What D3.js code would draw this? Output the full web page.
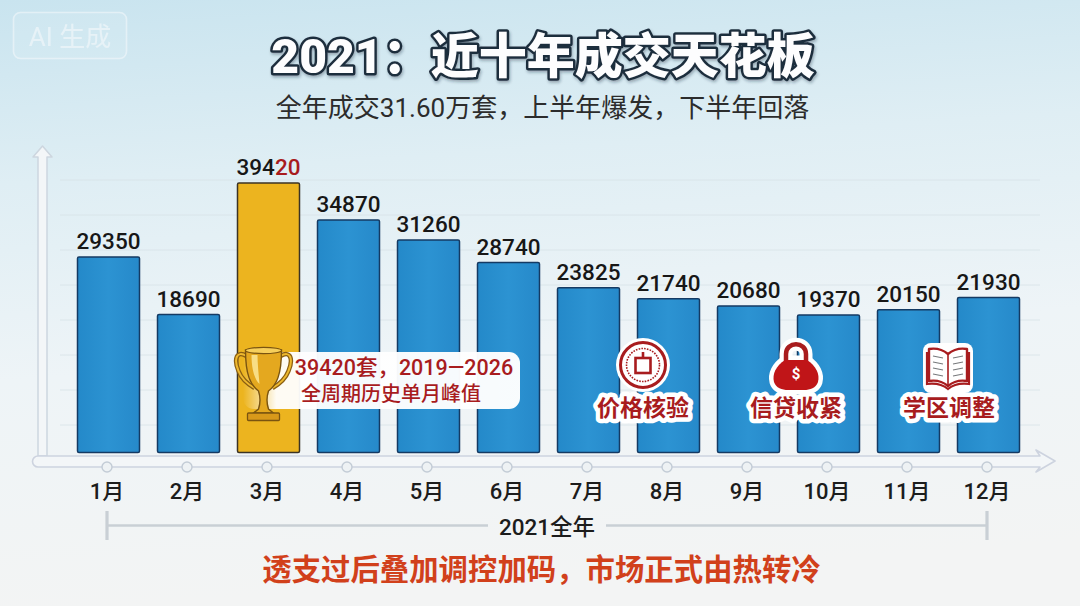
<!DOCTYPE html>
<html>
<head>
<meta charset="utf-8">
<script src="https://cdn.jsdelivr.net/npm/d3@7"></script>
<style>
  html, body { margin: 0; padding: 0; background: #eef3f6; }
  svg { display: block; }
  text { font-family: Roboto, "Noto Sans CJK SC", "Noto Sans", sans-serif; }
</style>
</head>
<body>
<div id="chart"></div>
<script>
var months = ["1月","2月","3月","4月","5月","6月","7月","8月","9月","10月","11月","12月"];
var values = [29350,18690,39420,34870,31260,28740,23825,21740,20680,19370,20150,21930];
var peakMonth = "3月";
var titleText = "2021：近十年成交天花板";
var subtitleText = "全年成交31.60万套，上半年爆发，下半年回落";
var rangeText = "2021全年";
var footerText = "透支过后叠加调控加码，市场正式由热转冷";
var peakNote = ["39420套，2019—2026", "全周期历史单月峰值"];
var tags = ["价格核验","信贷收紧","学区调整"];

var width = 1080, height = 606;
var baseY = 452.5;
var red = "#a81c1e";

var svg = d3.select("#chart").append("svg")
    .attr("width", width)
    .attr("height", height)
    .attr("viewBox", "0 0 " + width + " " + height);

var defs = svg.append("defs");

var bg = defs.append("linearGradient").attr("id","bg")
    .attr("x1",0).attr("y1",0).attr("x2",0.12).attr("y2",1);
bg.append("stop").attr("offset","0%").attr("stop-color","#c9e4ef");
bg.append("stop").attr("offset","30%").attr("stop-color","#dfeef4");
bg.append("stop").attr("offset","62%").attr("stop-color","#eef4f7");
bg.append("stop").attr("offset","100%").attr("stop-color","#f3f4f4");

var blue = defs.append("linearGradient").attr("id","blueBar")
    .attr("x1",0).attr("y1",0).attr("x2",1).attr("y2",0);
blue.append("stop").attr("offset","0%").attr("stop-color","#2489c9");
blue.append("stop").attr("offset","50%").attr("stop-color","#2c93d2");
blue.append("stop").attr("offset","100%").attr("stop-color","#2689ca");

var note = defs.append("linearGradient").attr("id","noteFill")
    .attr("x1",0).attr("y1",0).attr("x2",1).attr("y2",0);
note.append("stop").attr("offset","0%").attr("stop-color","#fff").attr("stop-opacity",0);
note.append("stop").attr("offset","12%").attr("stop-color","#fff").attr("stop-opacity",0.95);
note.append("stop").attr("offset","100%").attr("stop-color","#fff").attr("stop-opacity",0.97);

var shadow = defs.append("filter").attr("id","titleShadow")
    .attr("x","-5%").attr("y","-20%").attr("width","110%").attr("height","150%");
shadow.append("feDropShadow").attr("dx",1).attr("dy",2).attr("stdDeviation",1.5)
    .attr("flood-color","#1d2b3a").attr("flood-opacity",0.35);

svg.append("rect").attr("width",width).attr("height",height).attr("fill","url(#bg)");

//the bars in the picture are not strictly proportional, so the scale has several stops
var y = d3.scaleLinear()
    .domain([0, 18690, 19370, 21930, 28740, 31260, 34870, 39420])
    .range([baseY, 314.5, 315, 297.5, 262.5, 240, 220, 183]);

var x = d3.scaleBand()
    .domain(months)
    .range([68.5, 1028.5])
    .paddingInner(0.225)
    .paddingOuter(0.1125);

var center = function(m){ return x(m) + x.bandwidth()/2; };

//faint horizontal guides
var gridY = d3.scaleLinear().domain([0,7]).range([180,425]);
svg.append("g").selectAll("line")
    .data(d3.range(8))
    .enter().append("line")
    .attr("x1",60).attr("x2",1040)
    .attr("y1",function(d){ return gridY(d); })
    .attr("y2",function(d){ return gridY(d); })
    .attr("stroke","#d6e1e6")
    .attr("stroke-width",1)
    .attr("opacity",0.75);

//y axis arrow
svg.append("path")
    .attr("d","M38,456 L38,157 L33,157 L42.5,146 L52,157 L47,157 L47,456 Z")
    .attr("fill","#f3f6f8")
    .attr("stroke","#cdd6df")
    .attr("stroke-width",1.5)
    .attr("stroke-linejoin","round");

//x axis band and arrow
svg.append("path")
    .attr("d","M38,456 L1040,456 L1036,450 L1055,461 L1036,472 L1040,467 L38,467 A5.5,5.5 0 0 1 38,456 Z")
    .attr("fill","#f3f6f8")
    .attr("stroke","#cdd3df")
    .attr("stroke-width",1.6)
    .attr("stroke-linejoin","round");

svg.append("g").selectAll("circle")
    .data(months)
    .enter().append("circle")
    .attr("cx",function(d){ return center(d) - 1.5; })
    .attr("cy",467)
    .attr("r",5)
    .attr("fill","#eef2f4")
    .attr("stroke","#c3ccd6")
    .attr("stroke-width",1.4);

//bars
svg.append("g").selectAll("rect")
    .data(months)
    .enter().append("rect")
    .attr("x",function(d){ return x(d); })
    .attr("width",x.bandwidth())
    .attr("y",function(d,i){ return y(values[i]); })
    .attr("height",function(d,i){ return baseY - y(values[i]); })
    .attr("rx",1.5)
    .attr("fill",function(d){ return d == peakMonth ? "#ecb41f" : "url(#blueBar)"; })
    .attr("stroke",function(d){ return d == peakMonth ? "#3b3324" : "#143a63"; })
    .attr("stroke-width",1.5);

//value labels, the peak has its last two digits in red
var labels = svg.append("g").selectAll("text")
    .data(months)
    .enter().append("text")
    .attr("x",center)
    .attr("y",function(d,i){ return y(values[i]) - 8; })
    .attr("text-anchor","middle")
    .attr("font-size",22.5)
    .attr("font-weight",500)
    .attr("fill","#171717");
labels.each(function(d,i){
    var s = String(values[i]);
    if (d == peakMonth) {
        d3.select(this).append("tspan").text(s.slice(0,3));
        d3.select(this).append("tspan").attr("fill",red).text(s.slice(3));
    } else {
        d3.select(this).text(s);
    }
});

//month labels
svg.append("g").selectAll("text")
    .data(months)
    .enter().append("text")
    .attr("x",function(d){ return center(d) - 1.5; })
    .attr("y",499)
    .attr("text-anchor","middle")
    .attr("font-size",22)
    .attr("font-weight",500)
    .attr("fill","#1c1c1c")
    .text(function(d){ return d; });

//range bracket
var bx1 = center(months[0]) - 1.5, bx2 = center(months[11]) - 1.5;
var bracket = svg.append("g").attr("stroke","#c9cfd5").attr("fill","none");
bracket.append("path").attr("stroke-width",3.2)
    .attr("d","M"+bx1+",511 V540 M"+bx2+",511 V540");
bracket.append("path").attr("stroke-width",2.4)
    .attr("d","M"+bx1+",525.5 H488 M606,525.5 H"+bx2);
svg.append("text").attr("x",547).attr("y",535)
    .attr("text-anchor","middle")
    .attr("font-size",22.5).attr("font-weight",500)
    .attr("fill","#1c1c1c").text(rangeText);

//title block
svg.append("text").attr("x",543).attr("y",73)
    .attr("text-anchor","middle")
    .attr("font-size",48).attr("font-weight",900)
    .attr("fill","#fdfdfe").attr("stroke","#1f2d3d").attr("stroke-width",5)
    .attr("stroke-linejoin","round").attr("paint-order","stroke")
    .attr("filter","url(#titleShadow)")
    .text(titleText);
svg.append("text").attr("x",542.5).attr("y",117)
    .attr("text-anchor","middle")
    .attr("font-size",26).attr("font-weight",400)
    .attr("fill","#2c2c2c").text(subtitleText);
svg.append("text").attr("x",541.5).attr("y",580)
    .attr("text-anchor","middle")
    .attr("font-size",29.4).attr("font-weight",700)
    .attr("fill","#d1401b").text(footerText);

//AI badge
var badge = svg.append("g").attr("opacity",0.62);
badge.append("rect").attr("x",13.5).attr("y",12.5).attr("width",113).attr("height",46).attr("rx",7)
    .attr("fill","#ffffff").attr("fill-opacity",0.12)
    .attr("stroke","#f3f8fb").attr("stroke-width",1.6);
badge.append("text").attr("x",70).attr("y",46).attr("text-anchor","middle")
    .attr("font-size",26).attr("fill","#f7fafc").text("AI 生成");

//peak callout
svg.append("rect").attr("x",243).attr("y",352).attr("width",277).attr("height",57).attr("rx",11)
    .attr("fill","url(#noteFill)");
svg.append("text").attr("x",404).attr("y",375).attr("text-anchor","middle")
    .attr("font-size",21.5).attr("font-weight",500).attr("fill",red).text(peakNote[0]);
svg.append("text").attr("x",391).attr("y",401).attr("text-anchor","middle")
    .attr("font-size",20).attr("font-weight",500).attr("fill",red).text(peakNote[1]);

//trophy
var trophy = svg.append("g").attr("transform","translate("+(center(peakMonth)-5)+",347)");
trophy.append("path")
    .attr("d","M-17,9 C-27,3 -30,12 -25,24 C-22,32 -16,37 -9,41 M17,9 C27,3 30,12 25,24 C22,32 16,37 9,41")
    .attr("fill","none").attr("stroke","#8a5f12").attr("stroke-width",4.5);
trophy.append("path")
    .attr("d","M-17,9 C-27,3 -30,12 -25,24 C-22,32 -16,37 -9,41 M17,9 C27,3 30,12 25,24 C22,32 16,37 9,41")
    .attr("fill","none").attr("stroke","#eeb92f").attr("stroke-width",2);
trophy.append("path")
    .attr("d","M-18,3 L18,3 C18,28 13,38 5,44 C3,50 3,56 5,62 L10,66 L-10,66 L-5,62 C-3,56 -3,50 -5,44 C-13,38 -18,28 -18,3 Z")
    .attr("fill","#e4a81f").attr("stroke","#7a5410").attr("stroke-width",1.4);
trophy.append("path").attr("d","M-12,8 C-12,22 -9,32 -4,37 C-5,26 -6,16 -6,8 Z")
    .attr("fill","#f8de85");
trophy.append("ellipse").attr("cx",0).attr("cy",3.5).attr("rx",18).attr("ry",3.2)
    .attr("fill","#f6cf5b").attr("stroke","#7a5410").attr("stroke-width",1.2);
trophy.append("rect").attr("x",-16).attr("y",66).attr("width",32).attr("height",7.5).attr("rx",1)
    .attr("fill","#d8991a").attr("stroke","#7a5410").attr("stroke-width",1.3);

//policy tags below the icons
var tagX = [643, 796, 949];
svg.append("g").selectAll("text")
    .data(tags)
    .enter().append("text")
    .attr("x",function(d,i){ return tagX[i]; })
    .attr("y",416)
    .attr("text-anchor","middle")
    .attr("font-size",23).attr("font-weight",700)
    .attr("fill",red).attr("stroke","#fff").attr("stroke-width",9)
    .attr("stroke-linejoin","round").attr("paint-order","stroke")
    .text(function(d){ return d; });

//coin icon
var coin = svg.append("g").attr("transform","translate(643,365)");
coin.append("circle").attr("r",27).attr("fill","#fff");
coin.append("circle").attr("r",22.5).attr("fill","none").attr("stroke",red).attr("stroke-width",3);
coin.append("circle").attr("r",16.5).attr("fill","none").attr("stroke",red).attr("stroke-width",1.6).attr("stroke-dasharray","1.6 1.2");
coin.append("rect").attr("x",-7.5).attr("y",-7).attr("width",15).attr("height",15).attr("fill","none").attr("stroke",red).attr("stroke-width",2.6);
coin.append("path").attr("d","M0,-7 V-13").attr("stroke",red).attr("stroke-width",2.6);

//lock icon
var lock = svg.append("g").attr("transform","translate(796,368)");
var lockShape = "M-10,-6 V-14 C-10,-27 10,-27 10,-14 V-6";
var lockBody = "M-11,-8 L11,-8 C20,-2 24,6 22,14 C20,20 14,22 8,22 L-8,22 C-14,22 -20,20 -22,14 C-24,6 -20,-2 -11,-8 Z";
lock.append("path").attr("d",lockShape).attr("fill","none").attr("stroke","#fff").attr("stroke-width",13);
lock.append("path").attr("d",lockBody).attr("fill","#fff").attr("stroke","#fff").attr("stroke-width",9).attr("stroke-linejoin","round");
lock.append("path").attr("d",lockShape).attr("fill","none").attr("stroke",red).attr("stroke-width",4.5);
lock.append("path").attr("d",lockBody).attr("fill","#c01518");
lock.append("text").attr("x",0).attr("y",11).attr("text-anchor","middle")
    .attr("font-size",15).attr("font-weight",700).attr("fill","#fff").text("$");

//book icon
var book = svg.append("g").attr("transform","translate(948,368)");
book.append("rect").attr("x",-25).attr("y",-25).attr("width",50).attr("height",50).attr("rx",8).attr("fill","#fff");
book.append("path")
    .attr("d","M0,-14 C-6,-19 -13,-20 -19,-19 L-19,13 C-13,12 -6,13 0,18 C6,13 13,12 19,13 L19,-19 C13,-20 6,-19 0,-14 Z")
    .attr("fill","#fff").attr("stroke",red).attr("stroke-width",2.4).attr("stroke-linejoin","round");
book.append("path").attr("d","M-21,-16 V16 C-13,15 -6,16 0,21 C6,16 13,15 21,16 V-16")
    .attr("fill","none").attr("stroke",red).attr("stroke-width",2.2);
book.append("path").attr("d","M0,-14 V18").attr("stroke",red).attr("stroke-width",1.6);
book.append("path")
    .attr("d","M-15,-12 L-5,-10 M-15,-6 L-5,-4 M-15,0 L-5,2 M-15,6 L-5,8 M15,-12 L5,-10 M15,-6 L5,-4 M15,0 L5,2 M15,6 L5,8")
    .attr("stroke","#77797c").attr("stroke-width",1.2);
</script>
</body>
</html>
